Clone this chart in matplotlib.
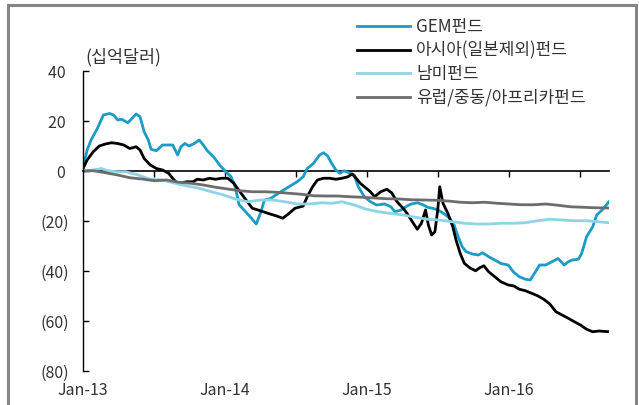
import matplotlib
matplotlib.use("Agg")
import matplotlib.pyplot as plt
from matplotlib.patches import Rectangle

plt.rcParams['font.family'] = ['Noto Sans CJK KR', 'DejaVu Sans']

# years since Jan-2013
gem_t = [0.000, 0.029, 0.057, 0.101, 0.144, 0.187, 0.216, 0.244, 0.273, 0.316, 0.345, 0.374,
         0.402, 0.431, 0.460, 0.480, 0.517, 0.560, 0.632, 0.667, 0.690, 0.718, 0.747, 0.784,
         0.819, 0.848, 0.876, 0.920, 0.963, 1.006, 1.043, 1.072, 1.101, 1.135, 1.178, 1.221,
         1.250, 1.279, 1.322, 1.359, 1.394, 1.451, 1.509, 1.552, 1.580, 1.624, 1.667, 1.695,
         1.724, 1.753, 1.782, 1.810, 1.839, 1.882, 1.911, 1.940, 1.983, 2.026, 2.069, 2.126,
         2.170, 2.198, 2.241, 2.284, 2.313, 2.356, 2.399, 2.428, 2.471, 2.500, 2.543, 2.586,
         2.615, 2.644, 2.672, 2.701, 2.744, 2.787, 2.816, 2.859, 2.902, 2.945, 2.997, 3.032,
         3.075, 3.118, 3.152, 3.181, 3.218, 3.261, 3.305, 3.348, 3.391, 3.420, 3.448, 3.491,
         3.514, 3.549, 3.592, 3.621, 3.658, 3.707]
gem_v = [1, 8.4, 12.4, 17, 22.4, 23, 22.4, 20.4, 20.7, 19.3, 21, 22.8,
         21.7, 15.7, 12.4, 8.7, 8.1, 10.4, 10.4, 6.4, 9.7, 11, 10, 11,
         12.4, 10.4, 8.1, 5.7, 2.4, -0.3, -2.3, -6.3, -13.6, -15.6, -18.3, -21.2,
         -17, -11.6, -11, -9.6, -8.3, -6.3, -4.3, -2.3, 1, 3, 6.4, 7.3,
         6, 3, 0.4, -0.9, 0.1, -0.9, -1.6, -6.3, -10.3, -12.3, -13.6, -13.2,
         -14.3, -16.3, -15.6, -14, -13.2, -12.7, -13.6, -14.5, -15, -15.6, -17, -19,
         -21.6, -26.3, -30.3, -32.3, -33.2, -33.6, -32.7, -34.3, -35.6, -37, -37.6, -40.3,
         -42.3, -43.3, -43.6, -41, -37.6, -37.6, -36.3, -35, -37.6, -36.3, -35.6, -35.3,
         -33, -26.3, -22.3, -17.6, -15.6, -12.3]

asia_t = [0.000, 0.029, 0.072, 0.115, 0.158, 0.201, 0.244, 0.287, 0.330, 0.374, 0.402, 0.431,
          0.474, 0.517, 0.560, 0.603, 0.632, 0.661, 0.690, 0.733, 0.776, 0.805, 0.848, 0.891,
          0.934, 0.977, 1.020, 1.063, 1.106, 1.149, 1.193, 1.250, 1.307, 1.365, 1.408, 1.451,
          1.494, 1.552, 1.580, 1.618, 1.652, 1.695, 1.739, 1.782, 1.825, 1.868, 1.897, 1.925,
          1.954, 1.983, 2.026, 2.055, 2.098, 2.141, 2.175, 2.213, 2.256, 2.284, 2.313, 2.356,
          2.385, 2.414, 2.434, 2.457, 2.480, 2.500, 2.514, 2.537, 2.572, 2.606, 2.629, 2.658,
          2.687, 2.730, 2.767, 2.796, 2.825, 2.859, 2.902, 2.945, 2.997, 3.037, 3.075, 3.118,
          3.161, 3.204, 3.247, 3.290, 3.333, 3.376, 3.420, 3.463, 3.506, 3.549, 3.592, 3.635,
          3.707]
asia_v = [1, 4.4, 7.7, 10, 10.8, 11.3, 11, 10.4, 9, 9.7, 8.4, 5,
          2.4, 1, 0.4, -0.9, -2.9, -4.7, -4.7, -4.3, -4.3, -3.3, -3.6, -2.9,
          -3.3, -2.9, -2.9, -4.9, -8.3, -11.6, -14.9, -15.9, -17, -18, -18.9, -17,
          -14.9, -14, -10.3, -6.3, -3.6, -2.9, -2.9, -3.3, -2.9, -2.3, -1.2, -2.9,
          -4.9, -6.3, -8.3, -10.3, -8.3, -7.3, -8.7, -12.3, -14.9, -17, -19.6, -23.3,
          -20.9, -15.6, -21.6, -25.6, -24.3, -15.6, -6.3, -12.9, -17, -22.3, -27.6, -32.9,
          -36.9, -38.9, -39.9, -38.7, -37.9, -40.3, -42.3, -44.3, -45.6, -46, -47.3, -47.9,
          -48.9, -49.9, -51.3, -53.2, -56.3, -57.6, -58.9, -60.3, -61.6, -63.3, -64.3, -64,
          -64.3]

latam_t = [0.000, 0.072, 0.129, 0.172, 0.244, 0.302, 0.388, 0.474, 0.560, 0.647, 0.733, 0.819,
           0.905, 0.991, 1.078, 1.164, 1.250, 1.336, 1.422, 1.509, 1.595, 1.681, 1.753, 1.825,
           1.911, 1.997, 2.083, 2.170, 2.256, 2.342, 2.428, 2.514, 2.601, 2.687, 2.773, 2.859,
           2.945, 3.032, 3.118, 3.204, 3.290, 3.376, 3.463, 3.549, 3.635, 3.707]
latam_v = [0, 0.4, 1, 0.1, -0.3, -0.3, -1.6, -3.3, -3.6, -4.9, -6, -6.9,
           -8.3, -9.6, -11.3, -12.3, -11.6, -11.6, -12.3, -13.2, -13.2, -12.7, -12.9, -12.3,
           -13.6, -15.3, -16.3, -17, -17.6, -18.5, -19.3, -19.6, -20.3, -20.9, -21.2, -21.2,
           -20.9, -20.9, -20.7, -19.9, -19.3, -19.6, -19.9, -19.9, -20.3, -20.7]

emea_t = [0.000, 0.072, 0.158, 0.244, 0.330, 0.417, 0.503, 0.589, 0.675, 0.761, 0.848, 0.934,
          1.020, 1.106, 1.193, 1.279, 1.365, 1.451, 1.537, 1.624, 1.710, 1.796, 1.882, 1.968,
          2.055, 2.141, 2.227, 2.313, 2.399, 2.486, 2.572, 2.658, 2.744, 2.830, 2.917, 3.003,
          3.089, 3.175, 3.261, 3.348, 3.434, 3.520, 3.606, 3.707]
emea_v = [0, 0.1, -0.7, -1.6, -2.7, -3.2, -3.9, -3.6, -4.5, -4.9, -5.6, -6.5,
          -7.2, -7.9, -8.3, -8.3, -8.5, -8.9, -9.3, -9.9, -10, -10, -10.3, -10.5,
          -10.8, -11.1, -11.2, -11.5, -11.6, -11.7, -12, -12.5, -12.7, -12.5, -12.9, -13.2,
          -13.5, -13.5, -13.2, -13.7, -14.3, -14.5, -14.7, -14.8]

series_names = ['GEM펀드', '아시아(일본제외)펀드', '남미펀드', '유럽/중동/아프리카펀드']
colors = ['#1a9cc4', '#000000', '#8ed3e6', '#6d6d6d']

year_ticks = [0, 1, 2, 3]
year_labels = ['Jan-13', 'Jan-14', 'Jan-15', 'Jan-16']
half_ticks = [0.5, 1.0, 1.5, 2.0, 2.5, 3.0, 3.5]
y_ticks = [40, 20, 0, -20, -40, -60, -80]
y_labels = ['40 ', '20 ', '0 ', '(20)', '(40)', '(60)', '(80)']
unit_label = '(십억달러)'

fig = plt.figure(figsize=(6.39, 4.05), dpi=100)
ax = fig.add_axes([83/639, 1 - 371/405, (609 - 83)/639, (371 - 71)/405])

lw = 2.0
for t, v, name, c in zip([gem_t, asia_t, latam_t, emea_t],
                         [gem_v, asia_v, latam_v, emea_v], series_names, colors):
    ax.plot(t, v, color=c, lw=lw, label=name, solid_joinstyle='round')

ax.set_xlim(0, 3.707)
ax.set_ylim(-80, 40)

for s in ['top', 'right', 'bottom']:
    ax.spines[s].set_visible(False)
ax.spines['left'].set_linewidth(1.0)
ax.spines['left'].set_color('#000000')

ax.set_yticks(y_ticks)
ax.set_yticklabels(y_labels)
ax.tick_params(axis='y', direction='in', length=4, width=1, pad=10,
               labelsize=11.5, labelcolor='#333333')
ax.set_xticks(year_ticks)
ax.set_xticklabels(year_labels)
ax.tick_params(axis='x', length=0, pad=8, labelsize=11.5, labelcolor='#333333')

zero_ax = ax.secondary_xaxis(80/120)
zero_ax.set_xticks(half_ticks)
zero_ax.tick_params(axis='x', direction='in', length=4, width=1, labelbottom=False,
                    labeltop=False, labelsize=1)
zero_ax.set_xticklabels([''] * len(half_ticks))
zero_ax.spines['bottom'].set_linewidth(1.2)
zero_ax.spines['top'].set_linewidth(1.2)

fig.text(85/639, 1 - 57.5/405, unit_label, fontsize=12.5, color='#333333',
         ha='left', va='center')

leg = fig.legend(loc='upper left', bbox_to_anchor=(357/639, 1 - 18/405),
                 frameon=False, fontsize=12.2, handlelength=3.1, handletextpad=0.4,
                 labelspacing=0.33, borderpad=0, borderaxespad=0)
for txt in leg.get_texts():
    txt.set_color('#333333')

fig.patches.append(Rectangle((8/639, -0.1), (636 - 8)/639, 1.1 - 5/405,
                             transform=fig.transFigure, fill=False,
                             edgecolor='#858585', linewidth=2.2))

fig.savefig('out.png', dpi=100)
